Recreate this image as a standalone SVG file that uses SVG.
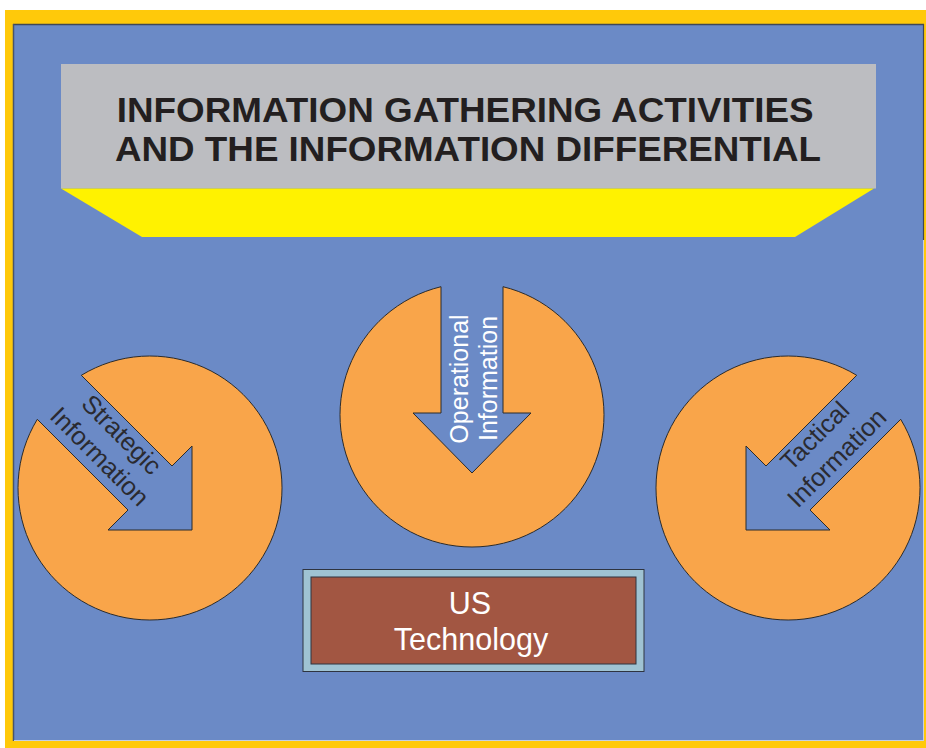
<svg xmlns="http://www.w3.org/2000/svg" width="926" height="748" viewBox="0 0 926 748">
  <style>
    .pie { fill: #F9A54A; stroke: #2b2b2b; stroke-width: 1; stroke-linejoin: miter; }
    .dark { font-family: "Liberation Sans", Arial, sans-serif; font-size: 25.5px; fill: #2a2a30; text-anchor: middle; }
    .light { font-family: "Liberation Sans", Arial, sans-serif; font-size: 25px; fill: #ffffff; text-anchor: middle; }
    .title { font-family: "Liberation Sans", Arial, sans-serif; font-weight: bold; font-size: 35.5px; fill: #231F20; }
    .us { font-family: "Liberation Sans", Arial, sans-serif; font-size: 30.5px; fill: #ffffff; text-anchor: middle; }
  </style>
  <rect x="0" y="0" width="926" height="748" fill="#ffffff"/>
  <rect x="5" y="10" width="921" height="738" fill="#FFC90A"/>
  <rect x="13" y="24" width="911" height="717" fill="#6B8AC6"/>
  <line x1="13" y1="24.5" x2="924" y2="24.5" stroke="#3f4756" stroke-width="1.5"/>
  <line x1="13.5" y1="24" x2="13.5" y2="741" stroke="#4a5568" stroke-width="1.5"/>
  <line x1="923.5" y1="24" x2="923.5" y2="240" stroke="#3f4756" stroke-width="1.2"/>
  <line x1="923.5" y1="240" x2="923.5" y2="741" stroke="#c5d0e3" stroke-width="1"/>
  <line x1="14" y1="740.5" x2="924" y2="740.5" stroke="#c5d0e3" stroke-width="1.2"/>

  <g id="title">
    <rect x="61" y="64" width="815" height="124.5" fill="#BCBDC1"/>
    <polygon points="61,188.5 874,188.5 795,237 142,237" fill="#FFF200"/>
    <text class="title" x="116.7" y="122.3" textLength="697" lengthAdjust="spacingAndGlyphs">INFORMATION GATHERING ACTIVITIES</text>
    <text class="title" x="115" y="161" textLength="706" lengthAdjust="spacingAndGlyphs">AND THE INFORMATION DIFFERENTIAL</text>
  </g>

  <g id="connectors"/>

  <g id="strategic">
    <path class="pie" d="M 81.3 375.3 A 132 132 0 1 1 37.3 419.3 L 128 510 L 108 530 L 192 530 L 192 446 L 172 466 Z"/>
    <g transform="translate(104.5,451.7) rotate(45)">
      <text class="dark" x="0" y="-15.5">Strategic</text>
      <text class="dark" x="0" y="15.5">Information</text>
    </g>
  </g>

  <g id="operational">
    <path class="pie" d="M 441 286.7 A 132 132 0 1 0 503 286.7 L 503 413 L 531 413 L 472 473 L 413 413 L 441 413 Z"/>
    <text class="light" transform="translate(467.5,379) rotate(-90)">Operational</text>
    <text class="light" transform="translate(497,378.5) rotate(-90)">Information</text>
  </g>

  <g id="tactical">
    <path class="pie" d="M 856.7 375.3 A 132 132 0 1 0 900.7 419.3 L 810 510 L 830 530 L 746 530 L 746 446 L 766 466 Z"/>
    <g transform="translate(832,453) rotate(-45)">
      <text class="dark" x="0" y="-15.5">Tactical</text>
      <text class="dark" x="0" y="15.5">Information</text>
    </g>
  </g>

  <g id="us-technology">
    <rect x="303" y="569.5" width="341" height="102" fill="#9FC3D3" stroke="#2e3440" stroke-width="1"/>
    <rect x="311" y="577" width="325" height="87" fill="#A25642" stroke="#2e3440" stroke-width="1"/>
    <text class="us" x="470" y="614">US</text>
    <text class="us" x="471" y="650">Technology</text>
  </g>
</svg>
